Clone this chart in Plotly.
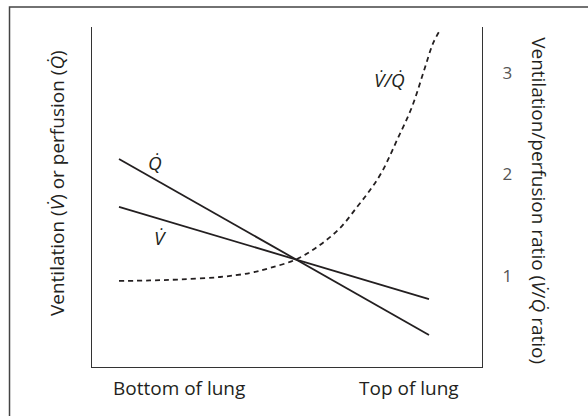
import plotly.graph_objects as go

# Position along the lung, 0 = bottom, 1 = top
position = [0.0, 1.0]
perfusion_q = [2.153, 0.419]
ventilation_v = [1.680, 0.773]

# Ventilation/perfusion ratio along the lung
ratio_pos = [0.0, 0.100, 0.197, 0.326, 0.423, 0.487, 0.574, 0.648, 0.713,
             0.768, 0.810, 0.848, 0.897, 0.945, 0.981, 1.013, 1.035]
ratio_vq = [0.951, 0.956, 0.966, 0.990, 1.030, 1.079, 1.167, 1.305, 1.473,
            1.680, 1.847, 2.025, 2.340, 2.665, 2.995, 3.291, 3.419]

x_tick_vals = [0.194, 0.935]
x_tick_text = ["Bottom of lung", "Top of lung"]
ratio_ticks = [1, 2, 3]

INK = "#231f20"
FONT = "Open Sans"

fig = go.Figure()
fig.add_trace(go.Scatter(x=position, y=perfusion_q, mode="lines",
                         line=dict(color=INK, width=1.8), hoverinfo="skip"))
fig.add_trace(go.Scatter(x=position, y=ventilation_v, mode="lines",
                         line=dict(color=INK, width=1.8), hoverinfo="skip"))
fig.add_trace(go.Scatter(x=ratio_pos, y=ratio_vq, mode="lines", yaxis="y2",
                         line=dict(color=INK, width=1.8, dash="5px,4px", shape="spline"),
                         hoverinfo="skip"))

x_range = [-0.0871, 1.171]
y_range = [0.1034, 3.453]

fig.update_layout(
    width=588, height=416,
    margin=dict(l=92, r=106, t=27, b=49),
    paper_bgcolor="white", plot_bgcolor="white",
    showlegend=False,
    font=dict(family=FONT, color=INK),
    xaxis=dict(range=x_range, showgrid=False, zeroline=False,
               showline=True, linecolor="#333333", linewidth=1.3,
               tickvals=x_tick_vals, ticktext=x_tick_text, ticks="",
               ticklabelstandoff=4,
               tickfont=dict(size=19, color=INK)),
    yaxis=dict(range=y_range, showgrid=False, zeroline=False,
               showline=True, linecolor="#333333", linewidth=1.3,
               showticklabels=False, ticks=""),
    yaxis2=dict(range=y_range, overlaying="y", side="right",
                showgrid=False, zeroline=False,
                showline=True, linecolor="#333333", linewidth=1.3,
                tickvals=ratio_ticks, ticks="", ticklabelstandoff=16,
                tickfont=dict(size=17, color="#555555")),
)

# Curve labels
curve_labels = [(0.116, 2.113, "<i>Q̇</i>"),
                (0.135, 1.374, "<i>V̇</i>"),
                (0.871, 2.93, "<i>V̇/Q̇</i>")]
for lx, ly, lt in curve_labels:
    fig.add_annotation(x=lx, y=ly, text=lt, showarrow=False,
                       xanchor="center", yanchor="middle",
                       font=dict(size=19, color=INK))

# Axis titles
fig.add_annotation(xref="paper", yref="paper", x=-0.0897, y=0.541,
                   xanchor="center", yanchor="middle",
                   text="Ventilation (<i>V̇</i>) or perfusion (<i>Q̇</i>)",
                   textangle=-90, showarrow=False, font=dict(size=19, color=INK))
fig.add_annotation(xref="paper", yref="paper", x=1.146, y=0.488,
                   xanchor="center", yanchor="middle",
                   text="Ventilation/perfusion ratio (<i>V̇</i>/<i>Q̇</i> ratio)",
                   textangle=90, showarrow=False, font=dict(size=19, color=INK))

# Outer frame
fig.add_shape(type="rect", xref="paper", yref="paper",
              x0=-0.2115, x1=1.6, y0=-0.5, y1=1.0588,
              line=dict(color="#444444", width=1.5))

fig.write_html("out.html")
